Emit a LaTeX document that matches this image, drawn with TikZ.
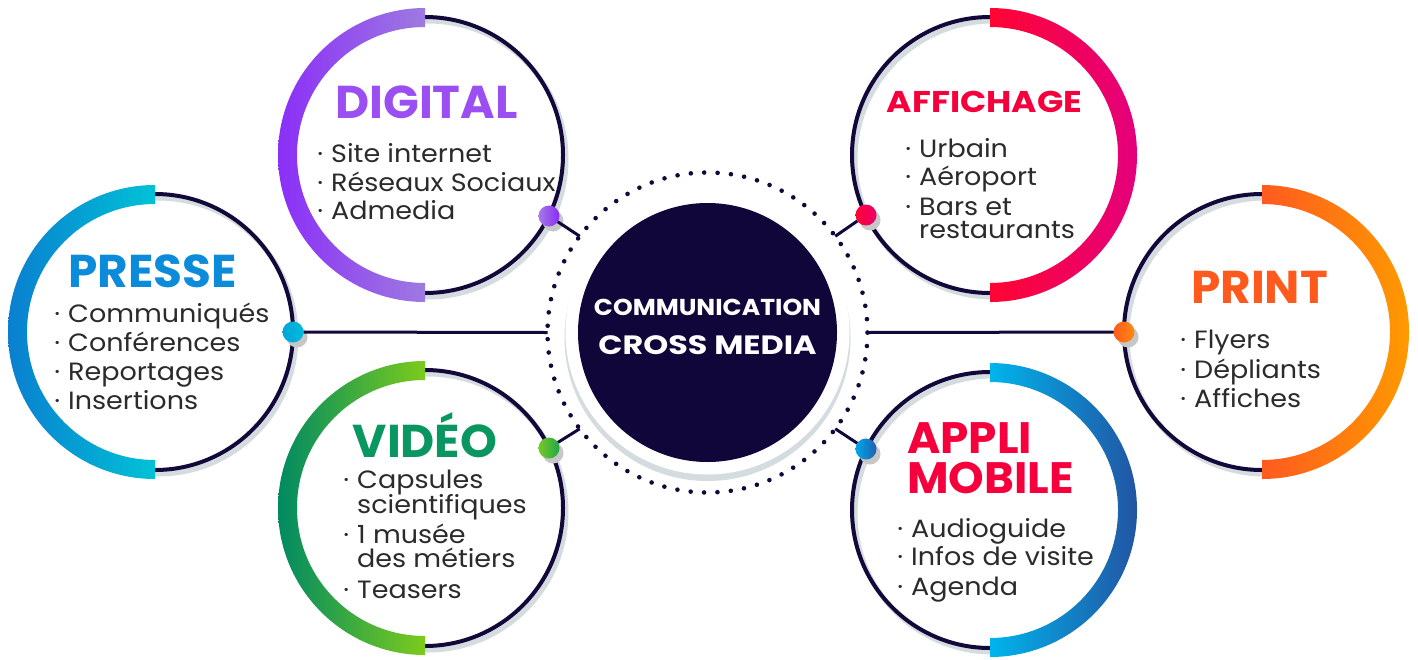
\documentclass[tikz,border=0pt]{standalone}
\usepackage{fontspec}
\setmainfont{Poppins}
\usetikzlibrary{shadows}
\definecolor{navy}{HTML}{12093A}
\definecolor{hubnavy}{HTML}{10063A}
\definecolor{ringshadow}{HTML}{D4DCE0}
\definecolor{txtgray}{HTML}{2B2B2B}
\definecolor{cDig}{HTML}{9B4FF2}
\definecolor{cPre}{HTML}{0B8BD9}
\definecolor{cAff}{HTML}{F5003C}
\definecolor{cPri}{HTML}{FF5A1E}
\definecolor{cVid}{HTML}{0A9660}
% band colours
\definecolor{preA}{HTML}{0A7FD0}\definecolor{preB}{HTML}{00C2D6}
\definecolor{digA}{HTML}{8B2FF7}\definecolor{digB}{HTML}{9D7AE0}
\definecolor{vidA}{HTML}{008A62}\definecolor{vidM}{HTML}{00A04C}\definecolor{vidB}{HTML}{7CCB1C}
\definecolor{affA}{HTML}{FF0533}\definecolor{affB}{HTML}{E4007C}
\definecolor{priA}{HTML}{FF5A1F}\definecolor{priB}{HTML}{FF9A00}
\definecolor{appA}{HTML}{00B4EC}\definecolor{appB}{HTML}{2255A4}
% dot colours
\definecolor{dpreA}{HTML}{00A4DC}\definecolor{dpreB}{HTML}{00BCD8}
\definecolor{ddigA}{HTML}{A57AE6}\definecolor{ddigB}{HTML}{8A2CF5}
\definecolor{dvidA}{HTML}{78C828}\definecolor{dvidB}{HTML}{20A848}
\definecolor{daffA}{HTML}{FF0038}\definecolor{daffB}{HTML}{E8006A}
\definecolor{dpriA}{HTML}{FF5A1E}\definecolor{dpriB}{HTML}{FF8A10}
\definecolor{dappA}{HTML}{00A8E8}\definecolor{dappB}{HTML}{2060B0}
\newcommand\bul{\llap{·\hspace{8pt}}}
\newcommand\leftband[4]{%
  \shade[left color=#3,right color=#4] (#1,#2) ++(0,-147) arc[start angle=270,end angle=90,radius=147] -- ++(0,-19) arc[start angle=90,end angle=270,radius=128] -- cycle;}
\newcommand\rightband[4]{%
  \shade[left color=#3,right color=#4] (#1,#2) ++(0,-147) arc[start angle=270,end angle=450,radius=147] -- ++(0,-19) arc[start angle=90,end angle=-90,radius=128] -- cycle;}
\newcommand\ringbase[2]{%
  \draw[ringshadow,line width=5] (#1+3,#2+4) circle[radius=138];
  \draw[navy,line width=4] (#1,#2) circle[radius=138];}
\begin{document}
\begin{tikzpicture}[x=1pt,y=-1pt,
  item/.style={anchor=base west,inner sep=0,font=\fontsize{25}{29}\selectfont\addfontfeature{FakeStretch=1.08},text=txtgray},
  ttl/.style={anchor=base,inner sep=0,font=\fontsize{46}{52}\bfseries\selectfont\addfontfeature{FakeStretch=1.02}},
  dotnode/.style={circle,inner sep=0,outer sep=0,minimum size=21,
     drop shadow={shadow xshift=4pt,shadow yshift=-5pt,fill=black!22,opacity=1}},
  link/.style={navy,line width=3}]
\useasboundingbox (0,0) rectangle (1418,659);
\fill[white] (0,0) rectangle (1418,659);
% rings
\ringbase{155}{332}
\ringbase{425}{155}
\ringbase{425}{508}
\ringbase{990}{155}
\ringbase{1262}{332}
\ringbase{990}{510}
% coloured bands
\leftband{155}{332}{preA}{preB}
\leftband{425}{155}{digA}{digB}
\shade[left color=vidA,middle color=vidM,right color=vidB] (425,508) ++(0,-147) arc[start angle=270,end angle=90,radius=147] -- ++(0,-19) arc[start angle=90,end angle=270,radius=128] -- cycle;
\rightband{990}{155}{affA}{affB}
\rightband{1262}{332}{priA}{priB}
\rightband{990}{510}{appA}{appB}
% hub
\fill[ringshadow] (707.5,338) circle[radius=143];
\fill[white] (707.5,332.5) circle[radius=142];
\node[circle,fill=hubnavy,minimum size=259,inner sep=0] (hub) at (707.5,332.5) {};
\node[circle,draw=navy,line width=4.6,dash pattern=on 0pt off 13.404pt,line cap=round,minimum size=320,inner sep=0,outer sep=0] (ring) at (707.5,332.5) {};
\node[anchor=base,inner sep=0,text=white,font=\fontsize{23}{26}\bfseries\selectfont\addfontfeature{FakeStretch=1.09}] (hubt1) at (707.5,315) {COMMUNICATION};
\node[anchor=base,inner sep=0,text=white,font=\fontsize{26.5}{30}\bfseries\selectfont\addfontfeature{FakeStretch=1.2}] (hubt2) at (707.5,354) {CROSS MEDIA};
% dots
\node[dotnode,left color=dpreA,right color=dpreB] (dpre) at (293,332) {};
\node[dotnode,left color=ddigA,right color=ddigB] (ddig) at (549,216) {};
\node[dotnode,left color=dvidA,right color=dvidB] (dvid) at (549,448) {};
\node[dotnode,left color=daffA,right color=daffB] (daff) at (866,215) {};
\node[dotnode,left color=dpriA,right color=dpriB] (dpri) at (1124,332) {};
\node[dotnode,left color=dappA,right color=dappB] (dapp) at (866,449) {};
% links
\draw[link] (dpre) -- (ring.180);
\draw[link] (dpri) -- (ring.0);
\draw[link] (ddig) -- (ring.143);
\draw[link] (daff) -- (ring.37);
\draw[link] (dvid) -- (ring.217);
\draw[link] (dapp) -- (ring.323);
% DIGITAL
\node[ttl,text=cDig] (tdig) at (426.5,118) {DIGITAL};
\node[item] (dig1) at (331,162) {\bul Site internet};
\node[item] (dig2) at (331,191) {\bul Réseaux Sociaux};
\node[item] (dig3) at (331,219) {\bul Admedia};
% PRESSE
\node[ttl,text=cPre] (tpre) at (152.5,287) {PRESSE};
\node[item] (pre1) at (68,322) {\bul Communiqués};
\node[item] (pre2) at (68,351) {\bul Conférences};
\node[item] (pre3) at (68,380) {\bul Reportages};
\node[item] (pre4) at (68,409) {\bul Insertions};
% AFFICHAGE
\node[ttl,text=cAff,font=\fontsize{30}{34}\bfseries\selectfont\addfontfeature{FakeStretch=1.15}] (taff) at (984.5,112) {AFFICHAGE};
\node[item] (aff1) at (919,157) {\bul Urbain};
\node[item] (aff2) at (919,185) {\bul Aéroport};
\node[item] (aff3) at (919,215) {\bul Bars et};
\node[item] (aff4) at (919,238) {restaurants};
% PRINT
\node[ttl,text=cPri] (tpri) at (1259.5,303) {PRINT};
\node[item] (pri1) at (1194,348) {\bul Flyers};
\node[item] (pri2) at (1194,378) {\bul Dépliants};
\node[item] (pri3) at (1194,407) {\bul Affiches};
% VIDEO
\node[ttl,text=cVid] (tvid) at (425,457) {VIDÉO};
\node[item] (vid1) at (357,488) {\bul Capsules};
\node[item] (vid2) at (357,513) {scientifiques};
\node[item] (vid3) at (357,543) {\bul 1 musée};
\node[item] (vid4) at (357,567) {des métiers};
\node[item] (vid5) at (357,598) {\bul Teasers};
% APPLI MOBILE
\node[ttl,anchor=base west,text=cAff,font=\fontsize{44}{50}\bfseries\selectfont\addfontfeature{FakeStretch=1.03}] (tapp1) at (907,453) {APPLI};
\node[ttl,anchor=base west,text=cAff,font=\fontsize{44}{50}\bfseries\selectfont\addfontfeature{FakeStretch=1.03}] (tapp2) at (907,493) {MOBILE};
\node[item] (app1) at (911,537) {\bul Audioguide};
\node[item] (app2) at (911,565) {\bul Infos de visite};
\node[item] (app3) at (911,595) {\bul Agenda};
\end{tikzpicture}
\end{document}
